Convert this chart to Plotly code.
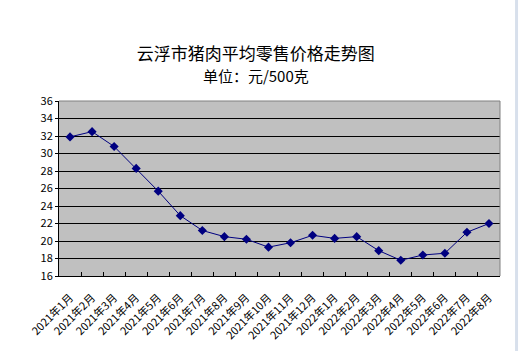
import plotly.graph_objects as go

months = ["2021年1月", "2021年2月", "2021年3月", "2021年4月", "2021年5月", "2021年6月",
          "2021年7月", "2021年8月", "2021年9月", "2021年10月", "2021年11月", "2021年12月",
          "2022年1月", "2022年2月", "2022年3月", "2022年4月", "2022年5月", "2022年6月",
          "2022年7月", "2022年8月"]
prices = [31.9, 32.5, 30.8, 28.3, 25.7, 22.9, 21.2, 20.5, 20.2, 19.3,
          19.8, 20.65, 20.3, 20.5, 18.9, 17.8, 18.4, 18.6, 21.0, 22.0]
y_ticks = list(range(16, 37, 2))

fig = go.Figure()
fig.add_trace(go.Scatter(
    x=months, y=prices, mode="lines+markers",
    line=dict(color="#000080", width=1),
    marker=dict(symbol="diamond", size=7, color="#000080"),
    showlegend=False,
))

fig.update_layout(
    width=520, height=351,
    margin=dict(l=59, r=20, t=101, b=75),
    paper_bgcolor="white",
    plot_bgcolor="#C0C0C0",
    font=dict(family="Noto Sans CJK SC, DejaVu Sans", color="black"),
    title=dict(
        text="云浮市猪肉平均零售价格走势图<br><span style='font-size:15px'>单位：元/500克</span>",
        x=0.492, xanchor="center", y=0.83, yanchor="middle",
        font=dict(size=17, color="black"),
    ),
    xaxis=dict(
        type="category", tickangle=-45, tickfont=dict(size=11),
        ticks="inside", ticklen=4, tickcolor="black", tickson="boundaries",
        ticklabelstandoff=10, automargin=False,
        showgrid=False, showline=True, linecolor="black", linewidth=1,
        range=[-0.5, len(months) - 0.5],
    ),
    yaxis=dict(
        range=[16, 36], tickvals=y_ticks, tickfont=dict(size=11),
        ticks="outside", ticklen=3, tickcolor="black", automargin=False,
        showgrid=True, gridcolor="black", gridwidth=1,
        showline=True, linecolor="black", linewidth=1, zeroline=False,
    ),
    shapes=[
        dict(type="line", xref="paper", yref="paper", x0=0, x1=1, y0=1, y1=1,
             line=dict(color="#808080", width=1)),
        dict(type="line", xref="paper", yref="paper", x0=1, x1=1, y0=0, y1=1,
             line=dict(color="#808080", width=1)),
        dict(type="line", xref="paper", yref="paper", x0=1.0375, x1=1.0375, y0=-0.45, y1=1.6,
             line=dict(color="#D8E0EC", width=3)),
    ],
)

fig.write_html("out.html")
